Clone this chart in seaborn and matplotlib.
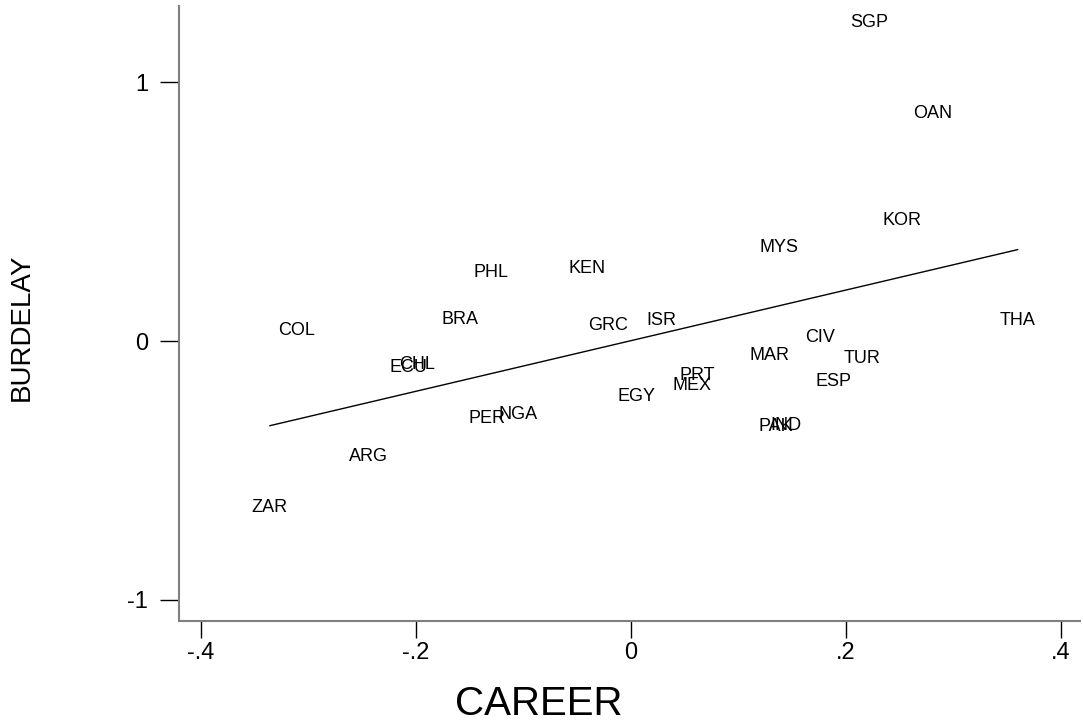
import matplotlib
matplotlib.use("Agg")
import matplotlib.pyplot as plt
import seaborn as sns
import pandas as pd

# Country codes with CAREER and BURDELAY scores
countries = ["SGP", "OAN", "KOR", "MYS", "KEN", "PHL", "BRA", "COL", "GRC", "ISR",
             "THA", "CIV", "MAR", "TUR", "CHL", "ECU", "PRT", "MEX", "ESP", "EGY",
             "PER", "NGA", "IND", "PAK", "ARG", "ZAR"]
career = [0.222, 0.281, 0.252, 0.138, -0.041, -0.130, -0.159, -0.311, -0.021, 0.028,
          0.360, 0.176, 0.129, 0.215, -0.199, -0.207, 0.062, 0.057, 0.189, 0.005,
          -0.134, -0.105, 0.144, 0.135, -0.244, -0.336]
burdelay = [1.233, 0.881, 0.464, 0.363, 0.282, 0.263, 0.085, 0.039, 0.062, 0.081,
            0.081, 0.012, -0.054, -0.066, -0.089, -0.104, -0.135, -0.170, -0.155, -0.216,
            -0.298, -0.282, -0.325, -0.332, -0.448, -0.642]

x_ticks = [-0.4, -0.2, 0, 0.2, 0.4]
x_tick_labels = ["-.4", "-.2", "0", ".2", ".4"]
y_ticks = [-1, 0, 1]
y_tick_labels = ["-1", "0", "1"]

df = pd.DataFrame({"country": countries, "CAREER": career, "BURDELAY": burdelay})

sns.set_theme(style="white")
plt.rcParams["font.family"] = ["Liberation Sans", "DejaVu Sans"]
plt.rcParams["text.color"] = "black"
plt.rcParams["axes.labelcolor"] = "black"
plt.rcParams["xtick.color"] = "black"
plt.rcParams["ytick.color"] = "black"

fig = plt.figure(figsize=(10.83, 7.21), dpi=100)
ax = fig.add_axes([0.165, 0.1387, 0.832, 0.853])

# Fitted line over the data range
sns.regplot(data=df, x="CAREER", y="BURDELAY", scatter=False, ci=None, truncate=True,
            line_kws={"color": "black", "linewidth": 1.0}, ax=ax)

# Country labels at each observation
for _, row in df.iterrows():
    ax.text(row["CAREER"], row["BURDELAY"], row["country"], ha="center", va="center",
            fontsize=13, color="black")

ax.set_xlim(-0.4207, 0.4177)
ax.set_ylim(-1.082, 1.295)
ax.set_xticks(x_ticks)
ax.set_xticklabels(x_tick_labels)
ax.set_yticks(y_ticks)
ax.set_yticklabels(y_tick_labels)
ax.tick_params(axis="x", which="major", length=12, width=1.0, color="black",
               direction="out", labelsize=17, pad=3, bottom=True, labelcolor="black")
ax.tick_params(axis="y", which="major", length=14, width=1.0, color="black",
               direction="out", labelsize=17, pad=8, left=True, labelcolor="black")

for side in ["top", "right"]:
    ax.spines[side].set_visible(False)
for side in ["left", "bottom"]:
    ax.spines[side].set_color("#7f7f7f")
    ax.spines[side].set_linewidth(1.5)

ax.set_xlabel("CAREER", fontsize=29, color="black", va="center", ha="center")
ax.set_ylabel("BURDELAY", fontsize=20, color="black", va="center", ha="center")
ax.xaxis.set_label_coords(0.400, -0.135)
ax.yaxis.set_label_coords(-0.174, 0.478)

fig.savefig("out.png", dpi=100)
